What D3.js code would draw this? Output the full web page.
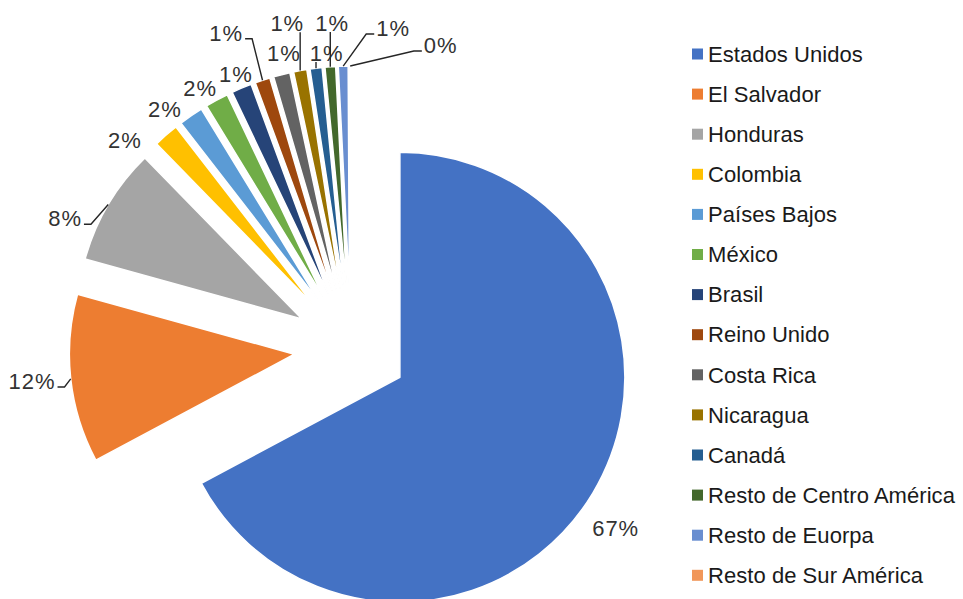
<!DOCTYPE html>
<html>
<head>
<meta charset="utf-8">
<script src="https://cdn.jsdelivr.net/npm/d3@7"></script>
<style>
  html, body { margin: 0; padding: 0; background: #ffffff; }
  svg { display: block; font-family: "Liberation Sans", Arial, Helvetica, sans-serif; }
</style>
</head>
<body>
<svg id="chart" width="963" height="599"></svg>
<script>
// ---- data ----
const categories = [
  "Estados Unidos", "El Salvador", "Honduras", "Colombia", "Países Bajos",
  "México", "Brasil", "Reino Unido", "Costa Rica", "Nicaragua", "Canadá",
  "Resto de Centro América", "Resto de Euorpa", "Resto de Sur América"
];
const values = [67.2, 12.1, 8.4, 1.82, 1.75, 1.66, 1.45, 1.08, 1.18, 0.95, 0.86, 0.76, 0.70, 0.09];
const colors = [
  "#4472C4", "#ED7D31", "#A5A5A5", "#FFC000", "#5B9BD5", "#70AD47", "#264478",
  "#9E480E", "#636363", "#997300", "#255E91", "#43682B", "#698ED0", "#F1975A"
];

// ---- layout (label placement, polar: angle in degrees clockwise from top, distance from pie centre) ----
const labelPolar = [
  [124.2, 320], [264.1, 320.7], [294.4, 314], [312.6, 307], [322.1, 302.9],
  [329.9, 300.7], [337.2, 297], [338.4, 339], [347.2, 302.5], [348.9, 331],
  [355.3, 296], [356.7, 325.5], [7.5, 322.7], [16.5, 316]
];
const leaderOn = [false, true, true, false, false, false, false, true, false, true, true, true, true, true];

const W = 963, H = 599;
const cx = 351, cy = 348;
const R = 225;
const explode = 57;

const svg = d3.select("#chart");
svg.append("rect").attr("width", W).attr("height", H).attr("fill", "#ffffff");

const total = d3.sum(values);
const data = categories.map((c, i) => ({ name: c, value: values[i], color: colors[i], idx: i }));

const pie = d3.pie().sort(null).value(d => d.value).startAngle(0).endAngle(2 * Math.PI);
const arcs = pie(data);
const arc = d3.arc().innerRadius(0).outerRadius(R);

const g = svg.append("g").attr("transform", `translate(${cx},${cy})`);

// slices, each exploded along its bisector
g.selectAll("path.slice")
  .data(arcs)
  .join("path")
  .attr("class", "slice")
  .attr("d", arc)
  .attr("fill", d => d.data.color)
  .attr("stroke", "#ffffff")
  .attr("stroke-width", 1.5)
  .attr("stroke-linejoin", "round")
  .attr("transform", d => {
    const m = (d.startAngle + d.endAngle) / 2;
    return `translate(${explode * Math.sin(m)},${-explode * Math.cos(m)})`;
  });

// labels
const fmt = v => Math.round(v / total * 100) + "%";
const labelG = svg.append("g");
arcs.forEach((d, i) => {
  const [angDeg, dist] = labelPolar[i];
  const a = angDeg * Math.PI / 180;
  const lx = cx + dist * Math.sin(a);
  const ly = cy - dist * Math.cos(a);
  const t = labelG.append("text")
    .attr("x", lx).attr("y", ly)
    .attr("dy", "0.35em")
    .attr("text-anchor", "middle")
    .attr("font-size", 22)
    .attr("letter-spacing", 1)
    .attr("fill", "#333333")
    .text(fmt(d.value));
  if (leaderOn[i]) {
    const m = (d.startAngle + d.endAngle) / 2;
    const tgt = d3.arc().innerRadius(R + explode).outerRadius(R + explode)
      .startAngle(m).endAngle(m).centroid();
    const tx = cx + tgt[0], ty = cy + tgt[1];
    const w = t.node().getComputedTextLength();
    const left = lx - w / 2, right = lx + w / 2;
    let p;
    if (tx >= left && tx <= right) {
      p = `M${tx},${ly + 9}L${tx},${ty}`;
    } else if (tx > right) {
      p = `M${right + 2},${ly + 6}H${right + 9}L${tx},${ty}`;
    } else {
      p = `M${left - 2},${ly + 6}H${left - 10}L${tx},${ty}`;
    }
    labelG.append("path").attr("d", p).attr("fill", "none")
      .attr("stroke", "#262626").attr("stroke-width", 1.4);
  }
});

// legend
const legend = svg.append("g");
const ly0 = 54, lstep = 40.1;
data.forEach((d, i) => {
  const y = ly0 + i * lstep;
  legend.append("rect").attr("x", 692).attr("y", y - 5.5).attr("width", 11).attr("height", 11)
    .attr("fill", d.color);
  legend.append("text").attr("x", 708).attr("y", y).attr("dy", "0.35em")
    .attr("font-size", 22).attr("letter-spacing", 0.05).attr("fill", "#1a1a1a").text(d.name);
});
</script>
</body>
</html>
